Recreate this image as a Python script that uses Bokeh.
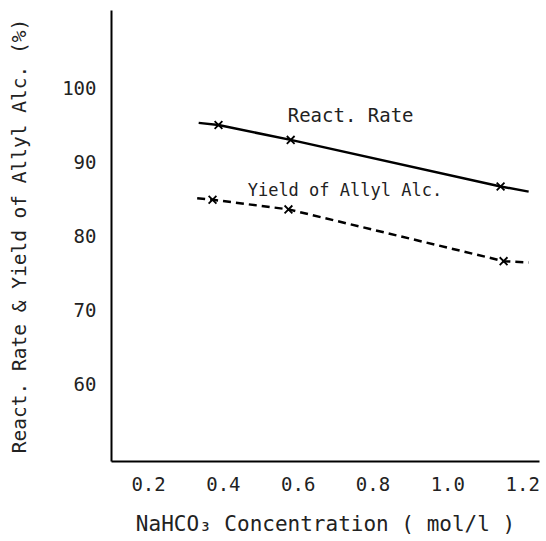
from bokeh.plotting import figure
from bokeh.models import Range1d, Label, FixedTicker
from bokeh.embed import file_html
from bokeh.resources import INLINE

# Data
rate_x = [0.387, 0.58, 1.141]
rate_y = [95.0, 93.0, 86.7]
rate_line_x = [0.334, 0.387, 0.58, 1.141, 1.216]
rate_line_y = [95.3, 95.0, 93.0, 86.7, 86.0]

yield_x = [0.371, 0.574, 1.149]
yield_y = [84.9, 83.6, 76.6]
yield_line_x = [0.330, 0.371, 0.574, 1.149, 1.216]
yield_line_y = [85.1, 84.9, 83.6, 76.6, 76.4]

x_ticks = [0.2, 0.4, 0.6, 0.8, 1.0, 1.2]
x_tick_labels = ["0.2", "0.4", "0.6", "0.8", "1.0", "1.2"]
y_ticks = [60, 70, 80, 90, 100]

FONT = "DejaVu Sans Mono"

p = figure(width=542, height=538, output_backend="svg", toolbar_location=None,
           x_range=Range1d(0.101, 1.245), y_range=Range1d(49.5, 110.5),
           min_border_left=111, min_border_right=3, min_border_top=10,
           min_border_bottom=75)
p.outline_line_color = None
p.grid.visible = False

p.xaxis.ticker = FixedTicker(ticks=x_ticks)
p.xaxis.major_label_overrides = {t: l for t, l in zip(x_ticks, x_tick_labels)}
p.yaxis.ticker = FixedTicker(ticks=y_ticks)
for ax in (p.xaxis, p.yaxis):
    ax.major_tick_line_color = None
    ax.minor_tick_line_color = None
    ax.axis_line_width = 2
    ax.axis_line_color = "black"
    ax.major_label_text_font = FONT
    ax.major_label_text_font_size = "19px"
    ax.major_label_text_color = "#222222"
    ax.axis_label_text_font = FONT
    ax.axis_label_text_font_size = "20px"
    ax.axis_label_text_font_style = "normal"
    ax.axis_label_text_color = "#222222"
p.xaxis.major_label_standoff = 9
p.yaxis.major_label_standoff = 9
p.xaxis.axis_label = "NaHCO\u2083 Concentration ( mol/l )"
p.xaxis.axis_label_text_font_size = "21px"
p.xaxis.axis_label_standoff = 18
p.yaxis.axis_label = "React. Rate & Yield of Allyl Alc. (%)"
p.yaxis.axis_label_text_font_size = "19.5px"
p.yaxis.axis_label_standoff = 28

p.line(rate_line_x, rate_line_y, line_color="black", line_width=2.5)
p.scatter(rate_x, rate_y, marker="x", size=11, line_color="black", line_width=1.8)

p.line(yield_line_x, yield_line_y, line_color="black", line_width=2.5, line_dash="8 5")
p.scatter(yield_x, yield_y, marker="x", size=11, line_color="black", line_width=1.8)

p.add_layout(Label(x=0.572, y=94.9, text="React. Rate", text_font=FONT,
                   text_font_size="19px", text_color="#222222"))
p.add_layout(Label(x=0.465, y=84.9, text="Yield of Allyl Alc.", text_font=FONT,
                   text_font_size="17px", text_color="#222222"))

open("out.html", "w").write(file_html(p, INLINE))
